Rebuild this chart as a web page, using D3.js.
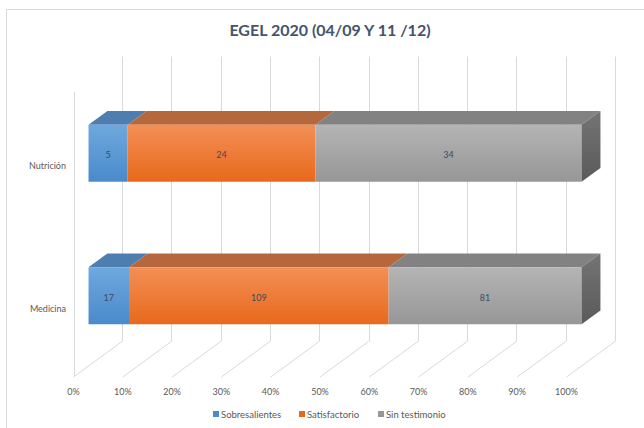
<!DOCTYPE html>
<html><head><meta charset="utf-8">
<script src="https://cdn.jsdelivr.net/npm/d3@7"></script>
<style>html,body{margin:0;padding:0;background:#fff;}svg{display:block;font-family:Lato,"Open Sans",sans-serif;}</style>
</head><body>
<svg id="c" width="644" height="428"></svg>
<script>
const title = "EGEL 2020 (04/09 Y 11 /12)";
const categories = ["Nutrición", "Medicina"];
const seriesNames = ["Sobresalientes", "Satisfactorio", "Sin testimonio"];
const sobresalientes = [5, 17];
const satisfactorio = [24, 109];
const sinTestimonio = [34, 81];
const tickLabels = ["0%","10%","20%","30%","40%","50%","60%","70%","80%","90%","100%"];

const seriesValues = [sobresalientes, satisfactorio, sinTestimonio];
const frontCol = [["#6ea8de","#4a8acb"],["#f38f56","#e8691b"],["#b4b4b4","#979797"]];
const topCol = ["#4e7eaf","#b5683c","#828282"];

const svg = d3.select("#c");
const defs = svg.append("defs");
frontCol.forEach((c,i)=>{
  const g = defs.append("linearGradient").attr("id","g"+i).attr("x1",0).attr("y1",0).attr("x2",0).attr("y2",1);
  g.append("stop").attr("offset","0%").attr("stop-color",c[0]);
  g.append("stop").attr("offset","100%").attr("stop-color",c[1]);
});
const gs = defs.append("linearGradient").attr("id","gside").attr("x1",0).attr("y1",0).attr("x2",0).attr("y2",1);
gs.append("stop").attr("offset","0%").attr("stop-color","#747474");
gs.append("stop").attr("offset","100%").attr("stop-color","#5a5a5a");

// chart border
svg.append("rect").attr("x",6.5).attr("y",9.5).attr("width",700).attr("height",440)
  .attr("fill","none").attr("stroke","#d9d9d9");

svg.append("text").attr("x",330).attr("y",36).attr("text-anchor","middle")
  .attr("font-size",16).attr("font-weight","bold").attr("fill","#44546a").text(title);

const x = d3.scaleLinear().domain([0,1]).range([73.5,566.5]);
const y = d3.scaleBand().domain(categories).range([93,378]).paddingInner(0.6).paddingOuter(0.3);
const DX = 48.5, DY = -35.5;
const floorY = 377;
const P = (v, yy, d) => [x(v) + d*DX, yy + d*DY];

const grid = svg.append("g").attr("stroke","#d9d9d9").attr("stroke-width",1).attr("fill","none");
const ticks = d3.range(0, 1.0001, 0.1);
// back wall verticals and floor lines
ticks.forEach(t=>{
  const [bx,by] = P(t, floorY, 1);
  const [,ty] = P(t, 92, 1);
  grid.append("line").attr("x1",Math.round(bx)+0.5).attr("x2",Math.round(bx)+0.5).attr("y1",ty).attr("y2",by);
  const [fx,fy] = P(t, floorY, 0);
  grid.append("line").attr("x1",fx).attr("y1",fy).attr("x2",bx).attr("y2",by);
});
// left wall front edge
grid.append("line").attr("x1",Math.round(x(0))+0.5).attr("x2",Math.round(x(0))+0.5).attr("y1",92).attr("y2",floorY);

// tick labels
svg.append("g").selectAll("text").data(tickLabels).join("text")
  .attr("x",(d,i)=>x(ticks[i])).attr("y",395).attr("text-anchor","middle")
  .attr("font-size",9).attr("fill","#595959").text(d=>d);

// category labels
svg.append("g").selectAll("text").data(categories).join("text")
  .attr("x",66).attr("y",d=>y(d)+y.bandwidth()/2+5).attr("text-anchor","end")
  .attr("font-size",9).attr("fill","#595959").text(d=>d);

const d0 = 0.31, d1 = 0.70;
const poly = pts => "M" + pts.map(p=>p.join(",")).join("L") + "Z";
const bars = svg.append("g");
categories.forEach((cat,ci)=>{
  const vals = seriesValues.map(s=>s[ci]);
  const total = d3.sum(vals);
  let acc = 0;
  const yt = y(cat), yb = y(cat)+y.bandwidth();
  vals.forEach((v,si)=>{
    const a = acc/total, b = (acc+v)/total;
    acc += v;
    bars.append("path").attr("d", poly([P(a,yt,d0),P(b,yt,d0),P(b,yt,d1),P(a,yt,d1)])).attr("fill",topCol[si]);
    bars.append("path").attr("d", poly([P(a,yt,d0),P(b,yt,d0),P(b,yb,d0),P(a,yb,d0)])).attr("fill","url(#g"+si+")");
    if (si === vals.length-1) {
      bars.append("path").attr("d", poly([P(b,yt,d0),P(b,yt,d1),P(b,yb,d1),P(b,yb,d0)])).attr("fill","url(#gside)");
    }
    const [cx,cy] = P((a+b)/2, (yt+yb)/2, d0);
    bars.append("text").attr("x",cx).attr("y",cy+5).attr("text-anchor","middle")
      .attr("font-size",9).attr("fill","#404a5c").text(v);
  });
});

// legend
const legX = [213, 299, 378];
const leg = svg.append("g");
seriesNames.forEach((n,i)=>{
  leg.append("rect").attr("x",legX[i]).attr("y",411).attr("width",6).attr("height",6).attr("fill",frontCol[i][1]);
  leg.append("text").attr("x",legX[i]+8).attr("y",417.5).attr("font-size",9.5).attr("fill","#595959").text(n);
});
</script>
</body></html>
